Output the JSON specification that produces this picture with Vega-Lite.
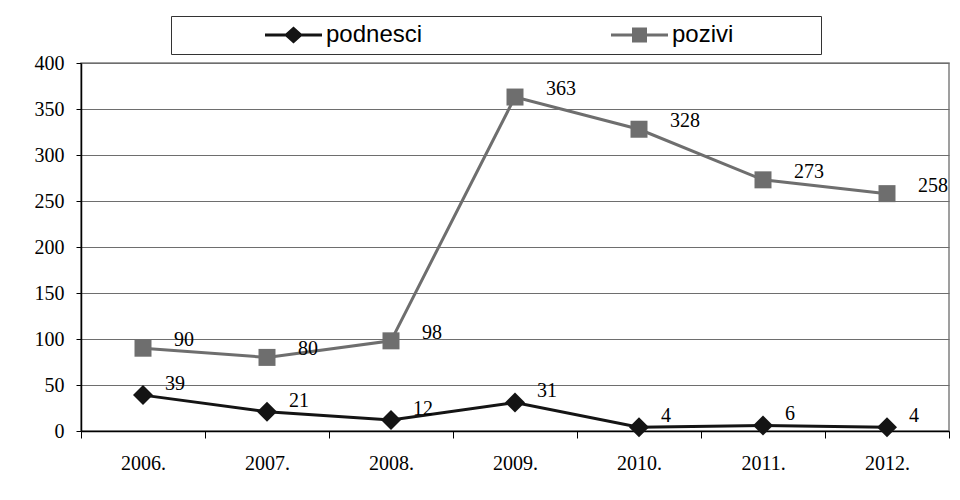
{
  "$schema": "https://vega.github.io/schema/vega-lite/v6.json",
  "width": 868,
  "height": 368,
  "autosize": {"type": "none"},
  "padding": {"left": 81, "top": 63, "right": 11, "bottom": 69},
  "background": "#ffffff",
  "config": {
    "view": {"stroke": "#808080", "strokeWidth": 1.5},
    "font": "Liberation Serif"
  },
  "data": {
    "values": [
      {"year": "2006.", "series": "podnesci", "value": 39},
      {"year": "2007.", "series": "podnesci", "value": 21},
      {"year": "2008.", "series": "podnesci", "value": 12},
      {"year": "2009.", "series": "podnesci", "value": 31},
      {"year": "2010.", "series": "podnesci", "value": 4},
      {"year": "2011.", "series": "podnesci", "value": 6},
      {"year": "2012.", "series": "podnesci", "value": 4},
      {"year": "2006.", "series": "pozivi", "value": 90},
      {"year": "2007.", "series": "pozivi", "value": 80},
      {"year": "2008.", "series": "pozivi", "value": 98},
      {"year": "2009.", "series": "pozivi", "value": 363},
      {"year": "2010.", "series": "pozivi", "value": 328},
      {"year": "2011.", "series": "pozivi", "value": 273},
      {"year": "2012.", "series": "pozivi", "value": 258}
    ]
  },
  "encoding": {
    "x": {
      "field": "year",
      "type": "nominal",
      "sort": null,
      "scale": {"type": "band", "paddingInner": 0, "paddingOuter": 0},
      "axis": {
        "title": null,
        "labelAngle": 0,
        "tickBand": "extent",
        "domainColor": "#000000",
        "domainWidth": 1.5,
        "tickColor": "#000000",
        "tickSize": 7,
        "labelPadding": 15,
        "labelFont": "Liberation Serif",
        "labelFontSize": 20,
        "labelColor": "#000000",
        "grid": false
      }
    },
    "y": {
      "field": "value",
      "type": "quantitative",
      "scale": {"domain": [0, 400], "nice": false},
      "axis": {
        "title": null,
        "values": [0, 50, 100, 150, 200, 250, 300, 350, 400],
        "domainColor": "#000000",
        "domainWidth": 1.5,
        "tickColor": "#000000",
        "tickSize": 5,
        "labelPadding": 12,
        "labelFont": "Liberation Serif",
        "labelFontSize": 20,
        "labelColor": "#000000",
        "grid": true,
        "gridColor": "#6e6e6e",
        "gridWidth": 1
      }
    }
  },
  "layer": [
    {
      "mark": {"type": "line", "strokeWidth": 3},
      "encoding": {
        "color": {
          "field": "series",
          "type": "nominal",
          "scale": {"domain": ["podnesci", "pozivi"], "range": ["#141414", "#6e6e6e"]},
          "legend": {
            "title": null,
            "orient": "none",
            "direction": "horizontal",
            "legendX": 90,
            "legendY": -47,
            "padding": 7,
            "strokeColor": "#333333",
            "fillColor": "#ffffff",
            "symbolSize": 576,
            "symbolOffset": 103.5,
            "labelOffset": 20.5,
            "columnPadding": 101,
            "labelFont": "Liberation Sans",
            "labelFontSize": 24,
            "labelColor": "#000000",
            "labelExpr": "datum.label === 'pozivi' ? datum.label + '            ​' : datum.label",
            "encode": {
              "symbols": {
                "update": {
                  "shape": {"signal": "datum.value === 'podnesci' ? 'M-2.375,-0.125H2.375V0.125H-2.375Z M0,-0.7L0.79,0L0,0.7L-0.79,0Z' : 'M-2.375,-0.125H2.375V0.125H-2.375Z M-0.625,-0.625H0.625V0.625H-0.625Z'"},
                  "fill": {"signal": "datum.value === 'podnesci' ? '#141414' : '#6e6e6e'"},
                  "stroke": {"value": "transparent"},
                  "strokeWidth": {"value": 0},
                  "opacity": {"value": 1}
                }
              }
            }
          }
        }
      }
    },
    {
      "transform": [{"filter": "datum.series === 'podnesci'"}],
      "mark": {"type": "point", "shape": "diamond", "filled": true, "opacity": 1, "size": 400, "color": "#141414"}
    },
    {
      "transform": [{"filter": "datum.series === 'pozivi'"}],
      "mark": {"type": "point", "shape": "square", "filled": true, "opacity": 1, "size": 289, "color": "#6e6e6e"}
    },
    {
      "transform": [{"filter": "datum.series === 'podnesci'"}],
      "mark": {"type": "text", "align": "left", "baseline": "middle", "dx": 22, "dy": -11, "font": "Liberation Serif", "fontSize": 20, "color": "#000000"},
      "encoding": {"text": {"field": "value", "type": "quantitative"}}
    },
    {
      "transform": [{"filter": "datum.series === 'pozivi'"}],
      "mark": {"type": "text", "align": "left", "baseline": "middle", "dx": 31, "dy": -8, "font": "Liberation Serif", "fontSize": 20, "color": "#000000"},
      "encoding": {"text": {"field": "value", "type": "quantitative"}}
    }
  ]
}
